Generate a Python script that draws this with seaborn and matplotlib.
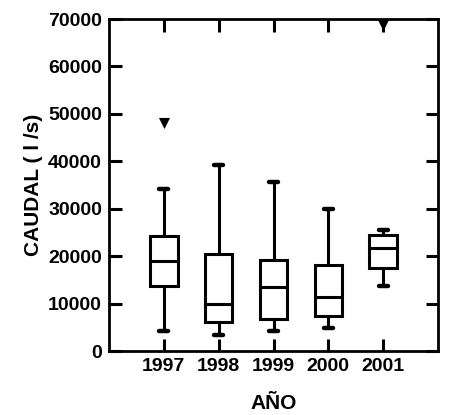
import matplotlib
matplotlib.use("Agg")
import matplotlib.pyplot as plt
import seaborn as sns
import pandas as pd

years = ["1997", "1998", "1999", "2000", "2001"]
w_low = [4250, 3300, 4250, 4800, 13650]
q1 = [13700, 6200, 6700, 7300, 17500]
median = [19000, 9900, 13450, 11300, 21800]
q3 = [24300, 20500, 19250, 18050, 24550]
w_high = [34200, 39300, 35700, 29850, 25500]
outlier_years = ["1997", "2001"]
outlier_values = [48100, 68800]

rows = []
for i, y in enumerate(years):
    for v in (w_low[i], q1[i], median[i], q3[i], w_high[i]):
        rows.append({"year": y, "caudal": v})
df = pd.DataFrame(rows)
df_out = pd.DataFrame({"year": outlier_years, "caudal": outlier_values})

sns.set_style("white")
plt.rcParams["font.family"] = ["Liberation Sans", "DejaVu Sans"]
plt.rcParams["text.color"] = "black"
plt.rcParams["axes.labelcolor"] = "black"
plt.rcParams["xtick.color"] = "black"
plt.rcParams["ytick.color"] = "black"

fig = plt.figure(figsize=(4.54, 4.15), dpi=100)
ax = fig.add_axes([109/454, 1 - 351/415, 329/454, 332/415])

lw = 2.2
sns.boxplot(data=df, x="year", y="caudal", order=years, whis=(0, 100),
            width=0.5, color="white", linecolor="black", linewidth=lw,
            showfliers=False, ax=ax)
sns.stripplot(data=df_out, x="year", y="caudal", order=years, jitter=False,
              marker="v", color="black", size=8, ax=ax)

# shorten whisker caps
for line in ax.lines:
    xd = line.get_xdata()
    yd = line.get_ydata()
    if len(xd) == 2 and len(yd) == 2 and yd[0] == yd[1] and 0 < abs(xd[1] - xd[0]) < 0.3:
        c = (xd[0] + xd[1]) / 2
        line.set_xdata([c - 0.08, c + 0.08])
        line.set_linewidth(lw + 1)

ax.set_xlim(-1, 5)
ax.set_ylim(0, 70000)
ax.set_yticks(range(0, 70001, 10000))
ax.set_yticklabels([str(v) for v in range(0, 70001, 10000)])
for s in ax.spines.values():
    s.set_linewidth(2)
    s.set_color("black")
ax.tick_params(axis="both", direction="in", length=9, width=2.2,
               top=True, right=True, bottom=True, left=True,
               labelsize=14, pad=5, colors="black")
for t in ax.get_xticklabels() + ax.get_yticklabels():
    t.set_fontweight("bold")
ax.set_xlabel("AÑO", fontsize=15, fontweight="bold", labelpad=14)
ax.set_ylabel("CAUDAL ( l /s)", fontsize=15, fontweight="bold", labelpad=4)

fig.savefig("out.png", dpi=100)
